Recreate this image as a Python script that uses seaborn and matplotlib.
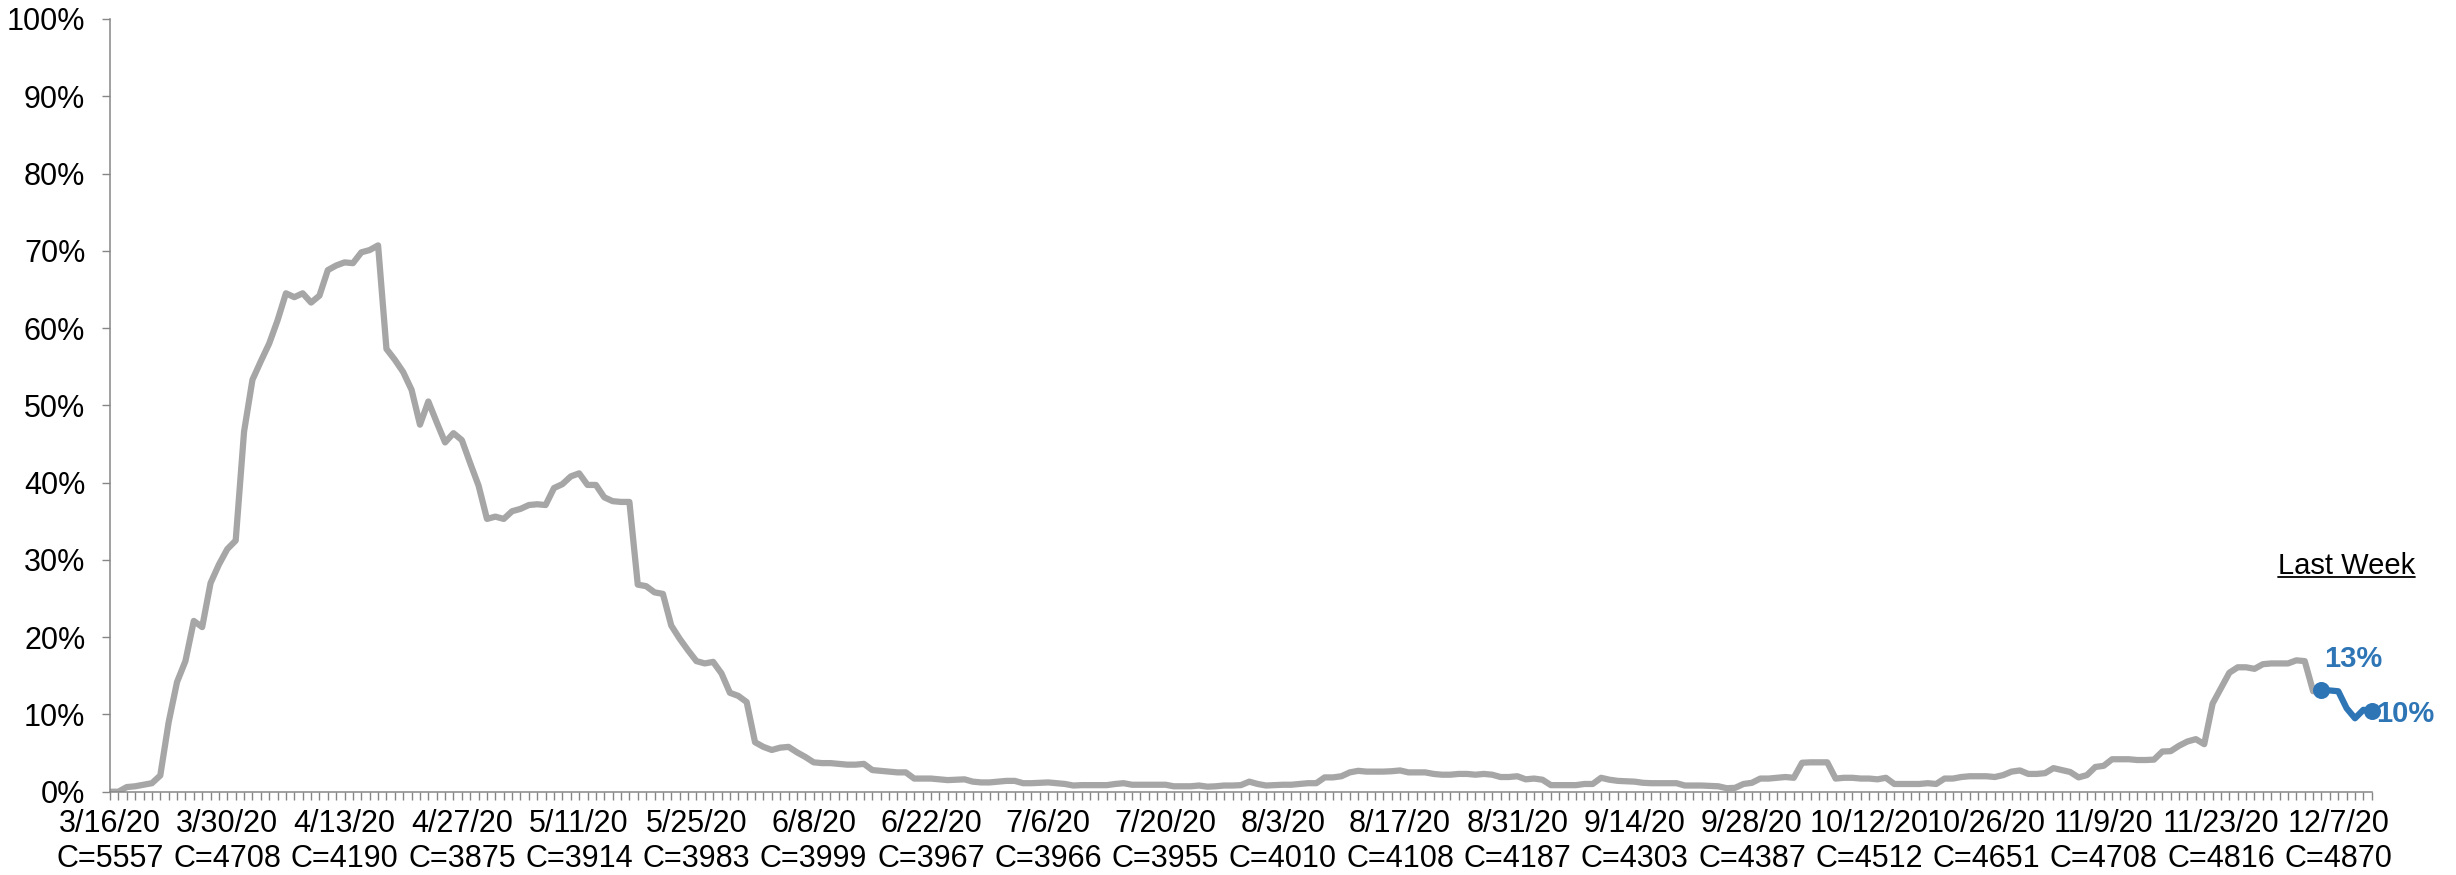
import pandas as pd
import matplotlib
matplotlib.use("Agg")
import matplotlib.pyplot as plt
import seaborn as sns
from matplotlib.lines import Line2D

# daily share (%) starting 3/16/20
start_date = "2020-03-16"
pct_values = [
    0.0, 0.0, 0.6, 0.7, 0.9, 1.1, 2.1, 9.0, 14.2, 16.9,
    22.1, 21.3, 27.0, 29.4, 31.4, 32.5, 46.6, 53.3, 55.7, 58.0,
    61.0, 64.5, 64.0, 64.5, 63.3, 64.2, 67.5, 68.1, 68.5, 68.4,
    69.8, 70.1, 70.7, 57.3, 55.9, 54.3, 52.0, 47.5, 50.5, 47.8,
    45.2, 46.4, 45.5, 42.5, 39.6, 35.3, 35.6, 35.3, 36.3, 36.6,
    37.1, 37.2, 37.1, 39.3, 39.8, 40.8, 41.2, 39.7, 39.7, 38.1,
    37.6, 37.5, 37.5, 26.8, 26.6, 25.8, 25.6, 21.5, 19.8, 18.3,
    16.9, 16.6, 16.8, 15.3, 12.8, 12.4, 11.6, 6.4, 5.8, 5.4,
    5.7, 5.8, 5.1, 4.5, 3.8, 3.7, 3.7, 3.6, 3.5, 3.5,
    3.6, 2.8, 2.7, 2.6, 2.5, 2.5, 1.7, 1.7, 1.7, 1.6,
    1.5, 1.55, 1.6, 1.3, 1.2, 1.2, 1.3, 1.4, 1.4, 1.1,
    1.1, 1.15, 1.2, 1.1, 1.0, 0.8, 0.85, 0.85, 0.85, 0.85,
    1.0, 1.1, 0.9, 0.9, 0.9, 0.9, 0.9, 0.7, 0.7, 0.7,
    0.8, 0.65, 0.7, 0.8, 0.8, 0.85, 1.3, 1.0, 0.8, 0.85,
    0.9, 0.9, 1.0, 1.1, 1.1, 1.85, 1.85, 2.0, 2.5, 2.7,
    2.6, 2.6, 2.6, 2.65, 2.75, 2.5, 2.5, 2.5, 2.3, 2.2,
    2.2, 2.3, 2.3, 2.2, 2.3, 2.2, 1.9, 1.9, 2.0, 1.6,
    1.7, 1.55, 0.85, 0.85, 0.85, 0.85, 1.0, 1.0, 1.8, 1.55,
    1.4, 1.35, 1.3, 1.15, 1.1, 1.1, 1.1, 1.1, 0.8, 0.8,
    0.8, 0.75, 0.7, 0.45, 0.5, 1.0, 1.15, 1.7, 1.7, 1.8,
    1.9, 1.8, 3.75, 3.8, 3.8, 3.8, 1.7, 1.8, 1.8, 1.7,
    1.7, 1.6, 1.8, 1.0, 1.0, 1.0, 1.0, 1.1, 1.0, 1.7,
    1.7, 1.9, 2.0, 2.0, 2.0, 1.9, 2.15, 2.6, 2.75, 2.3,
    2.3, 2.4, 3.05, 2.8, 2.55, 1.85, 2.15, 3.2, 3.35, 4.2,
    4.2, 4.2, 4.1, 4.1, 4.15, 5.2, 5.25, 5.95, 6.5, 6.8,
    6.15, 11.4, 13.4, 15.4, 16.1, 16.1, 15.9, 16.5, 16.6, 16.6,
    16.6, 17.0, 16.9, 13.0, 13.1, 13.1, 13.0, 10.8, 9.5, 10.6,
    10.4,
]
# sample size shown under every 14th date
label_counts = [5557, 4708, 4190, 3875, 3914, 3983, 3999, 3967, 3966, 3955,
                4010, 4108, 4187, 4303, 4387, 4512, 4651, 4708, 4816, 4870]
label_step = 14
last_week_days = 7

line_gray = "#A6A6A6"
axis_gray = "#868686"
blue = "#2E75B6"

dates = pd.date_range(start_date, periods=len(pct_values), freq="D")
df = pd.DataFrame({"day": range(len(pct_values)), "date": dates, "pct": pct_values})
history = df.iloc[: len(df) - last_week_days + 1]
last_week = df.iloc[-last_week_days:]
ends = last_week.iloc[[0, -1]]

sns.set_theme(style="white")
plt.rcParams["font.family"] = ["Liberation Sans", "DejaVu Sans"]

fig = plt.figure(figsize=(24.56, 8.75), dpi=100)
ax = fig.add_axes([0.0448, 0.0952, 0.9209, 0.8831])

sns.lineplot(data=history, x="day", y="pct", color=line_gray, linewidth=4.5,
             estimator=None, ax=ax)
sns.lineplot(data=last_week, x="day", y="pct", color=blue, linewidth=4.5,
             estimator=None, ax=ax)
sns.scatterplot(data=ends, x="day", y="pct", color=blue, s=150, linewidth=0,
                zorder=5, clip_on=False, ax=ax)

# end-point values
first, last = ends.iloc[0], ends.iloc[1]
ax.annotate(f"{round(first.pct)}%", (first.day, first.pct), xytext=(2, 17),
            textcoords="offset points", ha="left", va="baseline",
            fontsize=21, fontweight="bold", color=blue)
ax.annotate(f"{round(last.pct)}%", (last.day, last.pct), xytext=(3.5, -7.5),
            textcoords="offset points", ha="left", va="baseline",
            fontsize=21, fontweight="bold", color=blue)

ax.set_xlim(0, len(df) - 1)
ax.set_ylim(0, 100)

xlabels = []
for i, d in enumerate(df["date"]):
    if i % label_step == 0:
        xlabels.append(f"{d.month}/{d.day}/{d.year % 100}\nC={label_counts[i // label_step]}")
    else:
        xlabels.append("")
ax.set_xticks(df["day"])
ax.set_xticklabels(xlabels, linespacing=1.2)
ax.set_yticks(range(0, 101, 10))
ax.set_yticklabels([f"{v}%" for v in range(0, 101, 10)])

ax.tick_params(axis="both", which="major", direction="out", length=5.8, width=1,
               color=axis_gray, labelsize=22, labelcolor="black",
               bottom=True, left=True)
ax.tick_params(axis="x", pad=7)
ax.tick_params(axis="y", pad=12)
ax.set_xlabel("")
ax.set_ylabel("")

sns.despine(ax=ax)
for side in ["left", "bottom"]:
    ax.spines[side].set_color(axis_gray)
    ax.spines[side].set_linewidth(1.1)

lw_text = ax.text(267.0, 28.2, "Last Week", ha="center", va="baseline",
                  fontsize=21, color="black")

# underline under "Last Week"
fig.canvas.draw()
bb = lw_text.get_window_extent(renderer=fig.canvas.get_renderer())
inv = fig.transFigure.inverted()
(x0, y0), (x1, _) = inv.transform([(bb.x0, bb.y0 + 2.5), (bb.x1, bb.y0)])
fig.add_artist(Line2D([x0, x1], [y0, y0], transform=fig.transFigure,
                      color="black", linewidth=1.3))

fig.savefig("out.png", dpi=100)
plt.close(fig)
